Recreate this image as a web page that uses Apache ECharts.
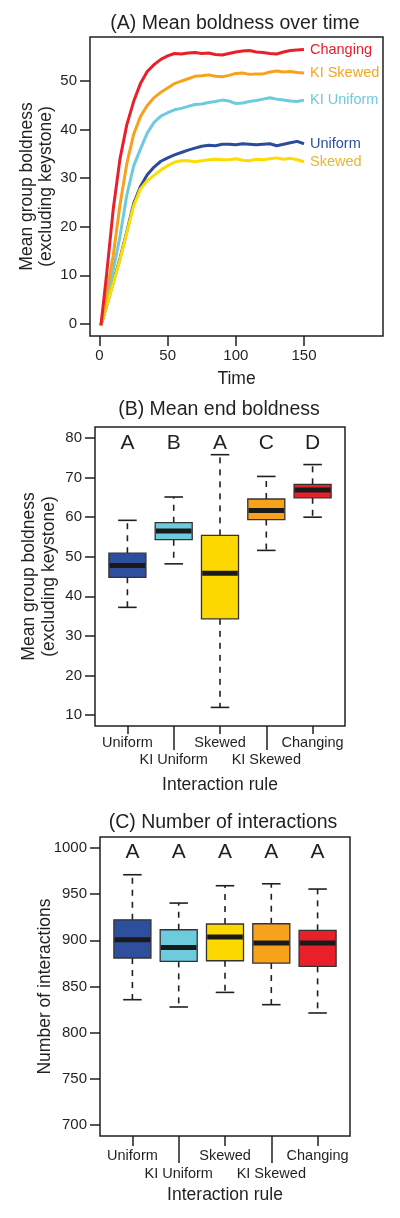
<!DOCTYPE html>
<html><head><meta charset="utf-8">
<script src="https://cdn.jsdelivr.net/npm/echarts@6/dist/echarts.min.js"></script>
<style>html,body{margin:0;padding:0;background:#fff}#c{width:400px;height:1218px}</style>
</head><body><div id="c"></div>
<script>
// ---------- data ----------
const timePoints = [1,5,10,15,20,25,30,35,40,45,50,55,60,65,70,75,80,85,90,95,100,105,110,115,120,125,130,135,140,145,150];
const boldUniform   = [-0.3,3.5,8.5,13.5,19.0,24.8,28.3,30.7,32.3,33.5,34.2,34.8,35.3,35.8,36.2,36.6,36.8,36.7,37.0,37.0,36.9,37.1,37.0,36.9,37.0,37.1,36.7,37.0,37.3,37.6,37.1];
const boldKIUniform = [-0.3,4.5,11.0,18.0,26.5,32.5,36.0,39.3,41.5,42.8,43.5,44.1,44.4,44.8,45.2,45.3,45.6,45.8,46.1,45.9,45.4,45.5,45.8,46.0,46.3,46.6,46.3,46.1,45.9,45.8,46.1];
const boldSkewed    = [-0.3,3.5,8.3,13.3,18.8,24.3,27.8,29.5,30.6,31.7,32.6,33.3,33.6,33.6,33.4,33.6,33.8,33.9,33.8,33.8,34.0,33.7,33.6,33.9,33.8,34.0,34.2,33.9,34.1,33.8,33.4];
const boldKISkewed  = [-0.3,6.0,14.0,24.5,33.0,39.0,42.7,45.0,46.6,47.7,48.6,49.5,50.0,50.5,51.0,51.1,51.3,51.0,50.9,51.2,51.6,51.7,51.4,51.5,51.5,51.9,52.1,51.9,52.0,51.8,51.7];
const boldChanging  = [-0.3,9.7,23.5,34.0,41.0,45.8,49.5,52.0,53.4,54.5,55.2,55.7,55.6,55.8,55.9,55.7,55.8,55.5,55.4,55.7,56.0,56.2,56.3,56.0,55.9,55.7,55.6,56.0,56.3,56.4,56.5];

const ruleNames = ['Uniform','KI Uniform','Skewed','KI Skewed','Changing'];

// [min, Q1, median, Q3, max]
const endUniform   = [37.2,44.8,47.8,50.9,59.2];
const endKIUniform = [48.2,54.3,56.5,58.6,65.1];
const endSkewed    = [11.9,34.3,45.8,55.4,75.8];
const endKISkewed  = [51.6,59.4,61.7,64.6,70.3];
const endChanging  = [60.0,64.9,66.9,68.3,73.3];
const endLetters   = ['A','B','A','C','D'];

const intUniform   = [835.7,880.9,900.7,922.3,971.1];
const intKIUniform = [827.8,877.2,892.3,911.5,940.4];
const intSkewed    = [843.6,877.9,903.6,917.7,959.2];
const intKISkewed  = [830.3,875.4,897.1,918.0,961.3];
const intChanging  = [821.3,871.8,897.1,910.8,955.6];
const intLetters   = ['A','A','A','A','A'];

const timeTicks = [0,50,100,150];
const boldTicks = [0,10,20,30,40,50];
const endTicks  = [10,20,30,40,50,60,70,80];
const intTicks  = [700,750,800,850,900,950,1000];

// ---------- style ----------
const FONT = "'Liberation Sans', Arial, sans-serif";
const INK = '#231f20';
const lineColors = {Uniform:'#2b4c9b','KI Uniform':'#6dcadf',Skewed:'#ffdc00','KI Skewed':'#f7a21c',Changing:'#e8202a'};
const labelColors = {Uniform:'#2f4d9e','KI Uniform':'#6dcadf',Skewed:'#e6b82e','KI Skewed':'#f5a623',Changing:'#e8202a'};
const boxColors = ['#2e4e9e','#6ccbdc','#fdd800','#f8a21c','#e8202a'];

function pairs(xs, ys){ return xs.map((x,i)=>[x, ys[i]]); }

function lineSeries(name, ys){
  return {
    type:'line', name, xAxisIndex:0, yAxisIndex:0,
    data: pairs(timePoints, ys), showSymbol:false, symbol:'none',
    lineStyle:{color:lineColors[name], width:3}, itemStyle:{color:lineColors[name]},
    endLabel:{show:true, formatter:'{a}', color:labelColors[name], fontSize:14.5, fontFamily:FONT, distance:6},
    z: 2
  };
}

function boxSeries(xi, yi, stats, letters, letterValue){
  return {
    type:'custom', xAxisIndex:xi, yAxisIndex:yi,
    encode:{x:0, y:[1,2,3,4,5]},
    data: stats.map((s,i)=>[i+1].concat(s)),
    renderItem(params, api){
      const x = api.value(0);
      const c = v => api.coord([x, v]);
      const w = api.size([0.8, 0])[0];
      const cx = c(api.value(1))[0];
      const yLo = c(api.value(1))[1], yQ1 = c(api.value(2))[1], yMed = c(api.value(3))[1],
            yQ3 = c(api.value(4))[1], yHi = c(api.value(5))[1];
      const ln = (x1,y1,x2,y2,style)=>({type:'line', shape:{x1,y1,x2,y2}, style});
      const dash = {stroke:INK, lineWidth:1.6, lineDash:[6,6]};
      const solid = {stroke:INK, lineWidth:1.6};
      return {type:'group', children:[
        ln(cx,yQ3,cx,yHi,dash), ln(cx,yQ1,cx,yLo,dash),
        ln(cx-w/4,yHi,cx+w/4,yHi,solid), ln(cx-w/4,yLo,cx+w/4,yLo,solid),
        {type:'rect', shape:{x:cx-w/2, y:yQ3, width:w, height:yQ1-yQ3},
         style:{fill:boxColors[params.dataIndex], stroke:'#333', lineWidth:1.3}},
        ln(cx-w/2+0.7,yMed,cx+w/2-0.7,yMed,{stroke:'#1a1a1a', lineWidth:5}),
        {type:'text', x:cx, y:c(letterValue)[1],
         style:{text:letters[params.dataIndex], fontSize:21, fontFamily:FONT, fill:INK,
                align:'center', verticalAlign:'middle'}}
      ]};
    }
  };
}

const tickStyle = {color:INK, width:1.5};
function valueAxis(grid, min, max, ticks, extra){
  return Object.assign({
    type:'value', gridIndex:grid, min, max,
    nameMoveOverlap:false,
    axisLine:{show:false, onZero:false},
    splitLine:{show:false},
    axisTick:{show:true, customValues:ticks, length:10, lineStyle:tickStyle},
    axisLabel:{customValues:ticks, color:INK, fontSize:15, fontFamily:FONT, margin:13, formatter:v=>String(v)}
  }, extra||{});
}
function catAxis(grid, ticks, tickLen, margin, extra){
  return Object.assign({
    type:'value', gridIndex:grid, min:0.3, max:5.7, position:'bottom',
    nameMoveOverlap:false,
    axisLine:{show:false, onZero:false},
    splitLine:{show:false},
    axisTick:{show:true, customValues:ticks, length:tickLen, lineStyle:tickStyle},
    axisLabel:{customValues:ticks, color:INK, fontSize:14.5, fontFamily:FONT, margin,
               formatter:v=>ruleNames[Math.round(v)-1]}
  }, extra||{});
}
const nameStyle = {color:INK, fontSize:17.5, fontFamily:FONT};
const yName2 = 'Mean group boldness\n(excluding keystone)';
const titleStyle = {color:INK, fontSize:19.5, fontWeight:'normal', fontFamily:FONT};

const option = {
  animation:false,
  backgroundColor:'#fff',
  title:[
    {text:'(A) Mean boldness over time', left:235, top:14, textAlign:'center', padding:0, textStyle:titleStyle},
    {text:'(B) Mean end boldness', left:219, top:400, textAlign:'center', padding:0, textStyle:titleStyle},
    {text:'(C) Number of interactions', left:223, top:813, textAlign:'center', padding:0, textStyle:titleStyle}
  ],
  grid:[
    {left:90, top:37, width:293, height:299, show:true, borderColor:INK, borderWidth:1.5, backgroundColor:'transparent', outerBoundsMode:'none'},
    {left:95, top:427, width:250, height:299, show:true, borderColor:INK, borderWidth:1.5, backgroundColor:'transparent', outerBoundsMode:'none'},
    {left:100, top:837, width:250, height:299, show:true, borderColor:INK, borderWidth:1.5, backgroundColor:'transparent', outerBoundsMode:'none'}
  ],
  xAxis:[
    valueAxis(0, -7, 208, timeTicks, {position:'bottom', name:'Time', nameLocation:'middle', nameGap:34, nameTextStyle:nameStyle,
      axisLabel:{customValues:timeTicks, color:INK, fontSize:15, fontFamily:FONT, margin:12.5}}),
    catAxis(1, [1,3,5], 8, 9, {name:'Interaction rule', nameLocation:'middle', nameGap:50, nameTextStyle:nameStyle}),
    catAxis(1, [2,4], 24, 26),
    catAxis(2, [1,3,5], 10, 12.5, {name:'Interaction rule', nameLocation:'middle', nameGap:50, nameTextStyle:nameStyle}),
    catAxis(2, [2,4], 27, 30.5)
  ],
  yAxis:[
    valueAxis(0, -2.5, 59.1, boldTicks, {name:yName2, nameLocation:'middle', nameRotate:90, nameGap:34,
      nameTextStyle:Object.assign({lineHeight:19}, nameStyle)}),
    valueAxis(1, 7.2, 82.8, endTicks, {name:yName2, nameLocation:'middle', nameRotate:90, nameGap:36,
      nameTextStyle:Object.assign({lineHeight:20}, nameStyle)}),
    valueAxis(2, 688, 1012, intTicks, {name:'Number of interactions', nameLocation:'middle', nameRotate:90, nameGap:46,
      nameTextStyle:nameStyle})
  ],
  series:[
    lineSeries('Uniform', boldUniform),
    lineSeries('KI Uniform', boldKIUniform),
    lineSeries('Skewed', boldSkewed),
    lineSeries('KI Skewed', boldKISkewed),
    lineSeries('Changing', boldChanging),
    boxSeries(1, 1, [endUniform,endKIUniform,endSkewed,endKISkewed,endChanging], endLetters, 78.7),
    boxSeries(3, 2, [intUniform,intKIUniform,intSkewed,intKISkewed,intChanging], intLetters, 995.2)
  ]
};
const chart = echarts.init(document.getElementById('c'), null, {renderer:'canvas'});
chart.setOption(option);
</script>
</body></html>
